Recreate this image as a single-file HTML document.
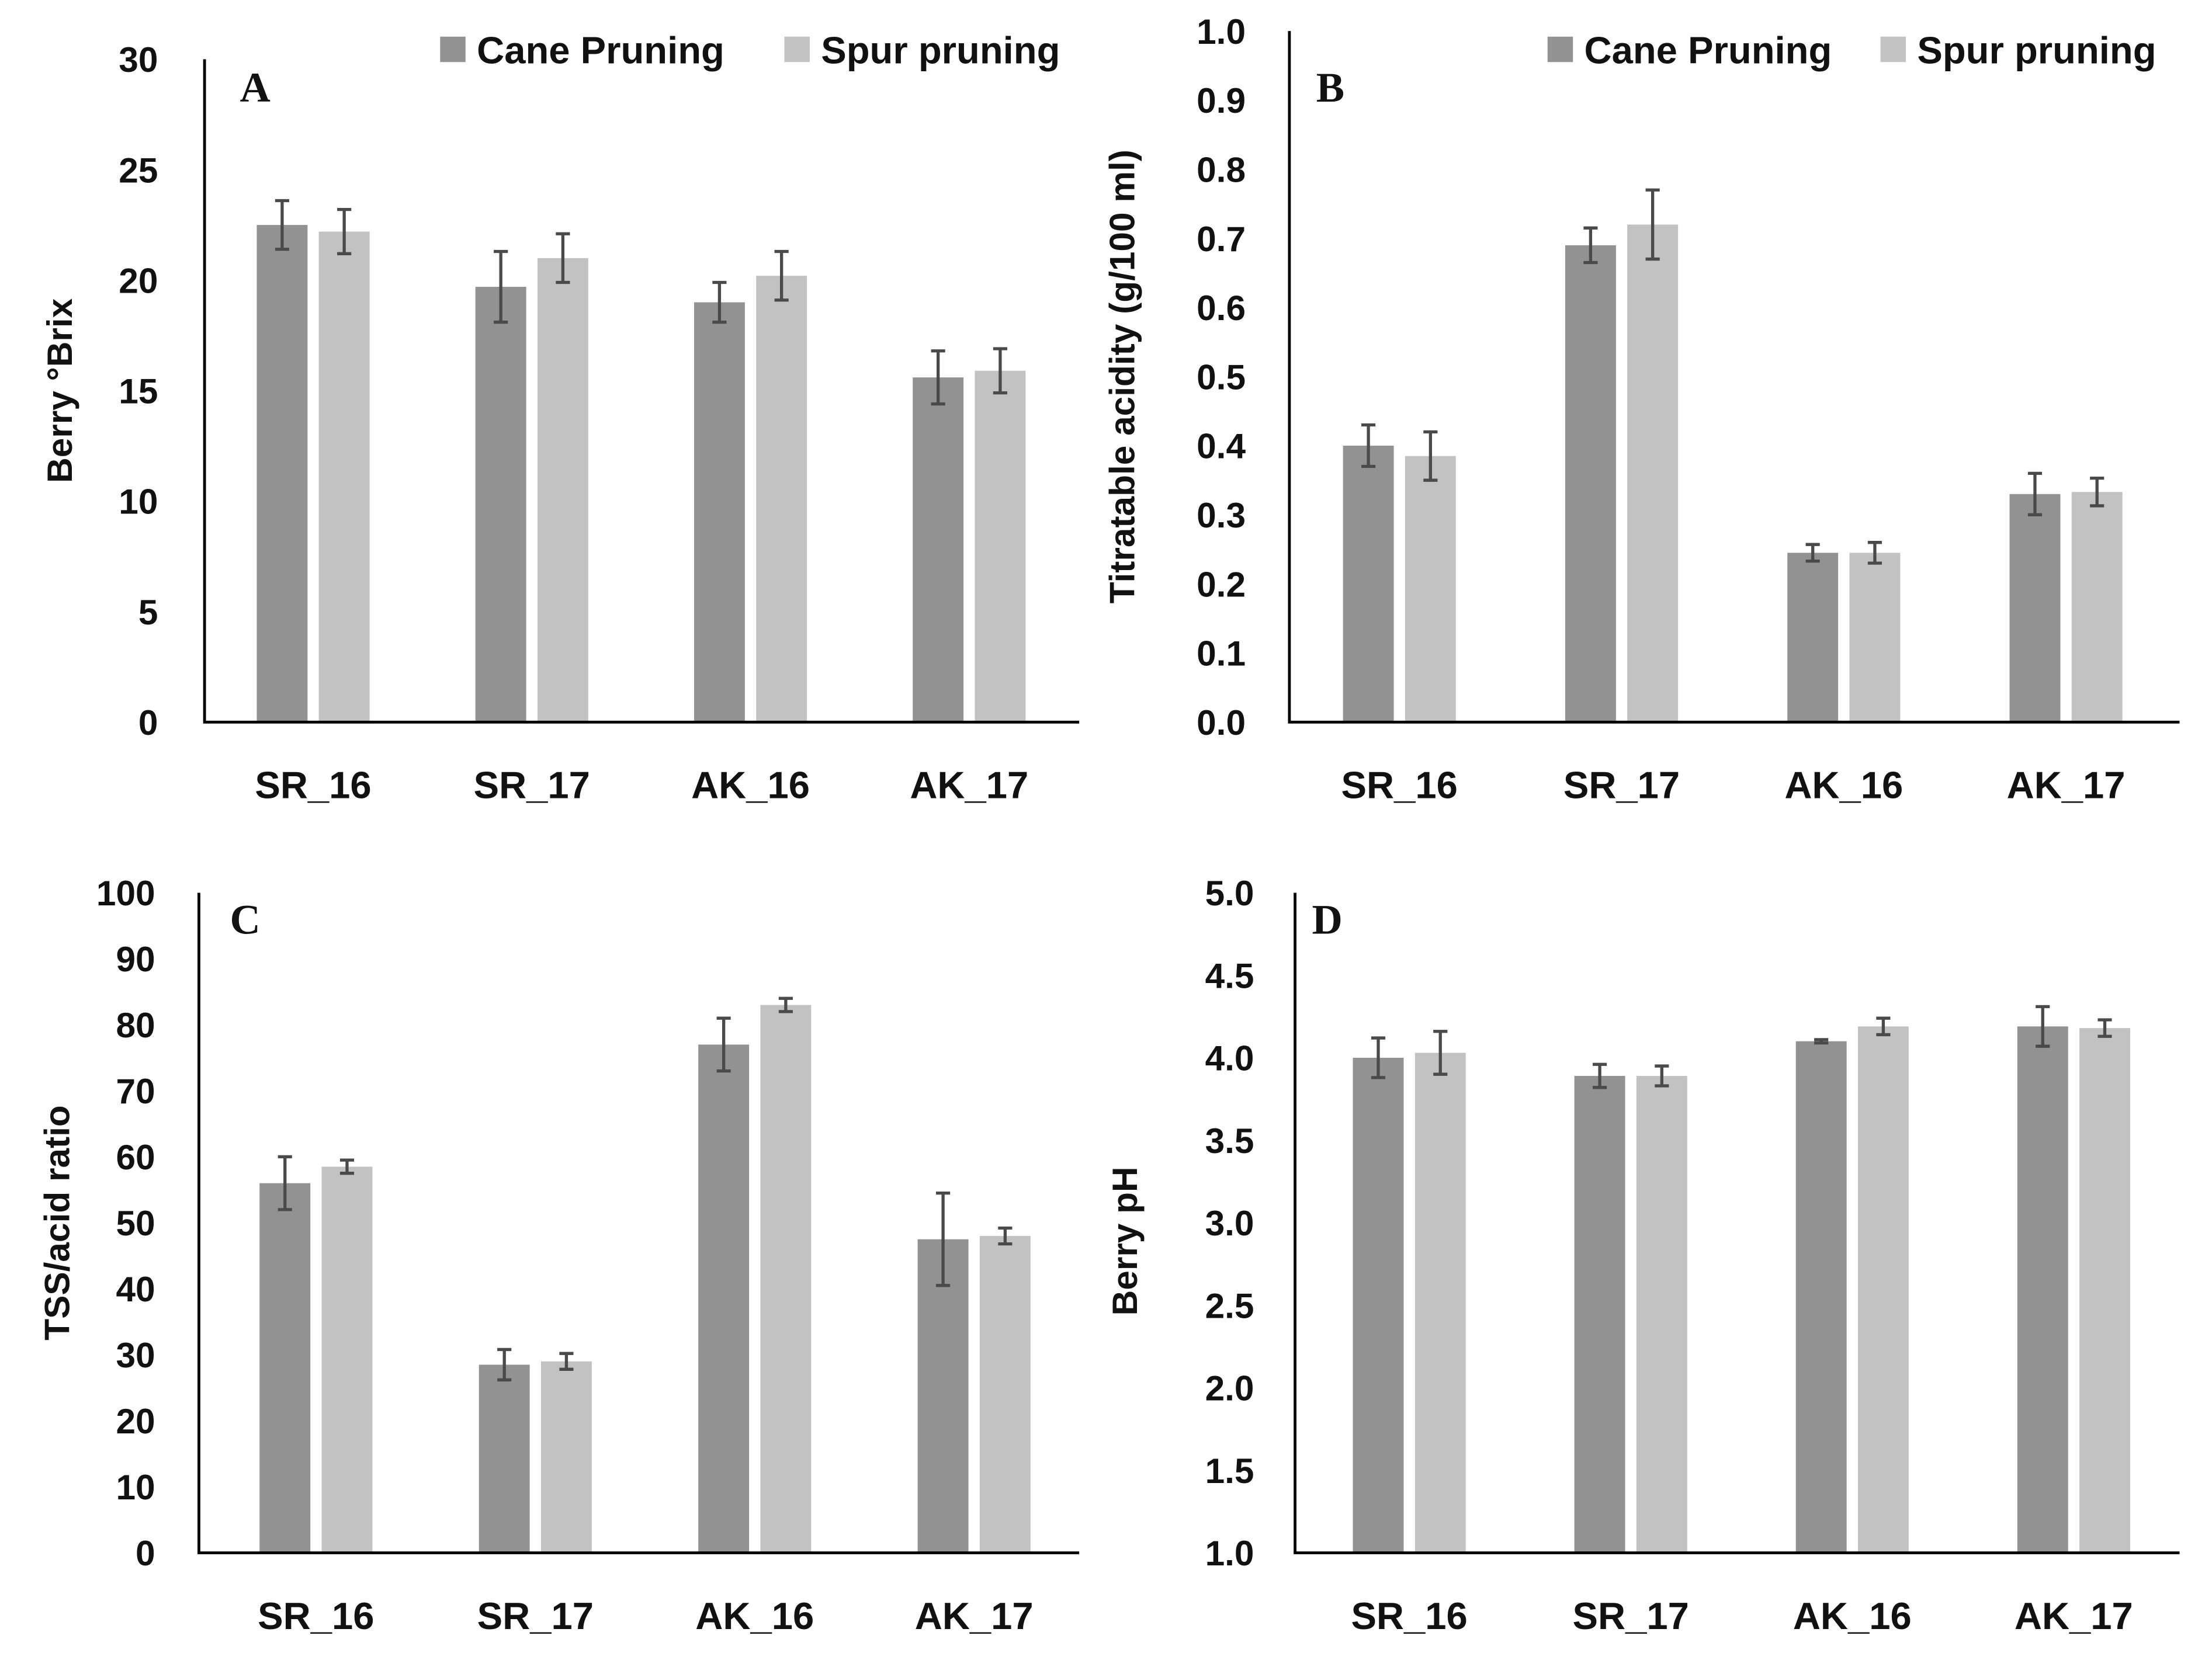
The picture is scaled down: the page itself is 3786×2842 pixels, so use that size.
<!DOCTYPE html>
<html><head><meta charset="utf-8"><style>
html,body{margin:0;padding:0;background:#fff}
svg{display:block}
text{font-family:"Liberation Sans",sans-serif;font-weight:bold;fill:#111}
</style></head><body>
<svg id="fig" width="3786" height="2842" viewBox="0 0 1568 1177" preserveAspectRatio="none" xmlns="http://www.w3.org/2000/svg"></svg>
<script>
const categories = ["SR_16","SR_17","AK_16","AK_17"];
const brixCane = [22.5,19.7,19.0,15.6];
const brixCaneErr = [1.1,1.6,0.9,1.2];
const brixSpur = [22.2,21.0,20.2,15.9];
const brixSpurErr = [1.0,1.1,1.1,1.0];
const taCane = [0.40,0.69,0.245,0.33];
const taCaneErr = [0.03,0.025,0.012,0.03];
const taSpur = [0.385,0.72,0.245,0.333];
const taSpurErr = [0.035,0.05,0.015,0.02];
const ratioCane = [56,28.5,77,47.5];
const ratioCaneErr = [4,2.3,4,7];
const ratioSpur = [58.5,29,83,48];
const ratioSpurErr = [1,1.2,1,1.2];
const phCane = [4.0,3.89,4.1,4.19];
const phCaneErr = [0.12,0.07,0.01,0.12];
const phSpur = [4.03,3.89,4.19,4.18];
const phSpurErr = [0.13,0.06,0.05,0.05];
const seriesNames = ["Cane Pruning","Spur pruning"];

const NS="http://www.w3.org/2000/svg";
const svg=document.getElementById('fig');
function mk(tag,attrs,parent){const e=document.createElementNS(NS,tag);for(const k in attrs)e.setAttribute(k,attrs[k]);(parent||svg).appendChild(e);return e;}

const panels=[
 {id:"a",letter:"A",ax:145,xe:765,y0:512,y1:42,min:0,max:30,step:5,dec:0,c0:222,pitch:155,title:"Berry °Brix",tx:42,ty:277,cane:brixCane,caneE:brixCaneErr,spur:brixSpur,spurE:brixSpurErr,lx:170,ly:72,leg:[312,556],tOff:33},
 {id:"b",letter:"B",ax:914,xe:1545,y0:512,y1:22,min:0,max:1,step:0.1,dec:1,c0:992,pitch:157.5,title:"Titratable acidity (g/100 ml)",tx:795,ty:267,cane:taCane,caneE:taCaneErr,spur:taSpur,spurE:taSpurErr,lx:933,ly:72,leg:[1097,1333],tOff:31},
 {id:"c",letter:"C",ax:141,xe:765,y0:1101,y1:633,min:0,max:100,step:10,dec:0,c0:224,pitch:155.5,title:"TSS/acid ratio",tx:40,ty:867,cane:ratioCane,caneE:ratioCaneErr,spur:ratioSpur,spurE:ratioSpurErr,lx:163,ly:662,tOff:31},
 {id:"d",letter:"D",ax:918,xe:1545,y0:1101,y1:633,min:1,max:5,step:0.5,dec:1,c0:999,pitch:157,title:"Berry pH",tx:797,ty:880,cane:phCane,caneE:phCaneErr,spur:phSpur,spurE:phSpurErr,lx:918+12,ly:662,tOff:29}
];

panels.forEach(p=>{
  const g=mk('g',{});
  
  
  const y=v=>p.y0-(v-p.min)/(p.max-p.min)*(p.y0-p.y1);
  const cx=i=>p.c0+i*p.pitch;
  const n=Math.round((p.max-p.min)/p.step);
  for(let k=0;k<=n;k++){
    const v=p.min+k*p.step;
    const t=mk('text',{x:p.ax-p.tOff,y:y(v)+9,'text-anchor':'end','font-size':25},g);
    
    
    t.textContent=v.toFixed(p.dec);
  }
  const series=[[p.cane,p.caneE,'#929292',-22],[p.spur,p.spurE,'#c2c2c2',22]];
  series.forEach((s,si)=>{
    categories.forEach((c,i)=>{
      const x=cx(i)+s[3];
      const r=mk('rect',{x:x-18,y:y(s[0][i]),width:36,height:y(p.min)-y(s[0][i]),fill:s[2]},g);
      
      
      const hi=y(s[0][i]+s[1][i]),lo=y(s[0][i]-s[1][i]);
      const e=mk('path',{d:`M${x} ${hi}V${lo}M${x-5} ${hi}H${x+5}M${x-5} ${lo}H${x+5}`,stroke:'#4a4a4a','stroke-width':2.2,fill:'none'},g);
      
      
    });
  });
  const ax=mk('path',{d:`M${p.ax} ${p.y1}V${p.y0}H${p.xe}`,stroke:'#000','stroke-width':2,fill:'none'},g);
  
  
  categories.forEach((c,i)=>{
    const t=mk('text',{x:cx(i),y:p.y0+54,'text-anchor':'middle','font-size':27},g);
    
    
    t.textContent=c;
  });
  const tt=mk('text',{x:0,y:0,'text-anchor':'middle','font-size':25,transform:`translate(${p.tx+9},${p.ty}) rotate(-90)`},g);
  
  
  tt.textContent=p.title;
  const L=mk('text',{x:p.lx,y:p.ly,'font-size':30,style:'font-family:"Liberation Serif",serif'},g);
  
  
  L.textContent=p.letter;
  if(p.leg){
    p.leg.forEach((lx,li)=>{
      const sq=mk('rect',{x:lx,y:26,width:18,height:18,fill:li?'#c2c2c2':'#929292'},g);
      
      
      const lt=mk('text',{x:lx+26,y:45,'font-size':27},g);
      
      
      lt.textContent=seriesNames[li];
    });
  }
});
</script>
</body></html>
